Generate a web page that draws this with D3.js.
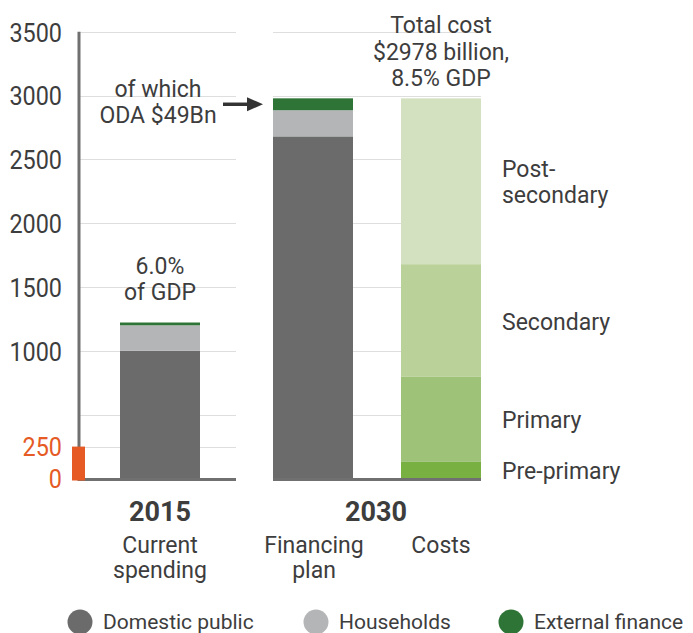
<!DOCTYPE html>
<html>
<head>
<meta charset="utf-8">
<script src="https://cdn.jsdelivr.net/npm/d3@7"></script>
<style>
  html, body { margin: 0; padding: 0; background: #fff; }
  svg { display: block; font-family: Roboto, "Noto Sans", sans-serif; }
</style>
</head>
<body>
<svg id="chart" width="693" height="633"></svg>
<script>
// Education spending 2015 vs financing plan and costs in 2030 (US$ billion)
const stackedBars = ["Current spending", "Financing plan"];
const sources = ["Domestic public", "Households", "External finance"];
const domesticPublic = [1000, 2680];
const households = [200, 205];
const externalFinance = [22, 93];

const costLevels = ["Pre-primary", "Primary", "Secondary", "Post-secondary"];
const costValues = [130, 666, 883, 1299];

const tickValues = [0, 250, 1000, 1500, 2000, 2500, 3000, 3500];
const highlightTicks = [0, 250];
const leftGrid = [250, 500, 1000, 1500, 2000, 2500, 3000, 3500];
const rightGrid = [500, 1000, 1500, 2000, 2500, 3000, 3500];
const highlightValue = 250;

const years = ["2015", "2030"];

const colors = {
  "Domestic public": "#6b6b6b",
  "Households": "#b4b5b6",
  "External finance": "#2e7437",
  "Pre-primary": "#78b042",
  "Primary": "#9fc279",
  "Secondary": "#bbd19a",
  "Post-secondary": "#d4e1c0"
};
const ink = "#3d3d3d";
const orange = "#e55a25";
const axisGray = "#707070";
const gridGray = "#dedede";
const tickSqueeze = 0.9; // narrower digits on the value axis

const svg = d3.select("#chart");

const y = d3.scaleLinear().domain([0, 3500]).range([478.5, 31.7]);
const columns = ["Current spending", "Financing plan", "Costs"];
const xCenter = d3.scaleOrdinal().domain(columns).range([160, 313, 441]);
const barW = 80;
const panels = [
  { x0: 80, x1: 236, grid: leftGrid },
  { x0: 273, x1: 481, grid: rightGrid }
];

// text helper
function label(parent, x, yy, text, opts = {}) {
  return parent.append("text")
    .attr("x", x).attr("y", yy)
    .attr("text-anchor", opts.anchor || "middle")
    .attr("font-size", opts.size || 23)
    .attr("font-weight", opts.weight || 400)
    .attr("fill", opts.fill || ink)
    .text(text);
}

// gridlines
const grid = svg.append("g");
panels.forEach(p => {
  grid.selectAll(null).data(p.grid).join("line")
    .attr("x1", p.x0).attr("x2", p.x1)
    .attr("y1", d => Math.round(y(d)) + 0.5).attr("y2", d => Math.round(y(d)) + 0.5)
    .attr("stroke", gridGray).attr("stroke-width", 1.2);
});

// stacked financing bars
const stackInput = stackedBars.map((c, i) => ({
  cat: c,
  "Domestic public": domesticPublic[i],
  "Households": households[i],
  "External finance": externalFinance[i]
}));
const series = d3.stack().keys(sources)(stackInput);
svg.append("g").selectAll("g").data(series).join("g")
  .attr("fill", s => colors[s.key])
  .selectAll("rect").data(s => s).join("rect")
  .attr("x", d => xCenter(d.data.cat) - barW / 2)
  .attr("width", barW)
  .attr("y", d => y(d[1]))
  .attr("height", d => y(d[0]) - y(d[1]));

// cost bar by level
const costRow = [Object.fromEntries(costLevels.map((k, i) => [k, costValues[i]]))];
const costSeries = d3.stack().keys(costLevels)(costRow);
svg.append("g").selectAll("rect").data(costSeries).join("rect")
  .attr("fill", s => colors[s.key])
  .attr("x", xCenter("Costs") - barW / 2)
  .attr("width", barW)
  .attr("y", s => y(s[0][1]))
  .attr("height", s => y(s[0][0]) - y(s[0][1]));

// level labels beside the cost bar
const levelText = {
  "Pre-primary": ["Pre-primary"],
  "Primary": ["Primary"],
  "Secondary": ["Secondary"],
  "Post-secondary": ["Post-", "secondary"]
};
costSeries.forEach(s => {
  const lines = levelText[s.key];
  const mid = (y(s[0][0]) + y(s[0][1])) / 2;
  lines.forEach((t, i) => {
    const yy = mid + (i - (lines.length - 1) / 2) * 26 + 9;
    label(svg, 502, yy, t, { anchor: "start", size: 23 });
  });
});

// baselines
panels.forEach(p => {
  svg.append("line")
    .attr("x1", p.x0 - (p.x0 === 80 ? 2 : 0)).attr("x2", p.x1)
    .attr("y1", y(0) + 1).attr("y2", y(0) + 1)
    .attr("stroke", axisGray).attr("stroke-width", 3);
});

// left axis line
svg.append("line")
  .attr("x1", 79).attr("x2", 79)
  .attr("y1", y(3500)).attr("y2", y(0) + 2.5)
  .attr("stroke", axisGray).attr("stroke-width", 3);

// highlighted low band on the axis
svg.append("rect")
  .attr("x", 72).attr("width", 13)
  .attr("y", y(highlightValue))
  .attr("height", y(0) - y(highlightValue) + 2)
  .attr("fill", orange);

// y axis labels
const axis = svg.append("g")
  .attr("transform", "translate(62,0)")
  .call(d3.axisLeft(y).tickValues(tickValues).tickSize(0).tickPadding(0).tickFormat(d3.format("d")));
axis.select(".domain").remove();
axis.selectAll("text")
  .attr("font-family", "Roboto, sans-serif")
  .attr("font-size", 26)
  .attr("dy", "0.36em")
  .attr("transform", `scale(${tickSqueeze},1)`)
  .attr("fill", d => highlightTicks.includes(d) ? orange : ink);

// annotations
const b2015 = stackInput[0];
const top2015 = y(b2015["Domestic public"] + b2015["Households"] + b2015["External finance"]);
label(svg, xCenter("Current spending"), top2015 - 49, "6.0%");
label(svg, xCenter("Current spending"), top2015 - 23, "of GDP");

const totalCost = d3.sum(costValues);
const topCost = y(totalCost);
label(svg, xCenter("Costs"), topCost - 65, "Total cost");
label(svg, xCenter("Costs"), topCost - 38, `$${totalCost} billion,`);
label(svg, xCenter("Costs"), topCost - 12, "8.5% GDP");

const b2030 = stackInput[1];
const top2030 = y(b2030["Domestic public"] + b2030["Households"] + b2030["External finance"]);
label(svg, 158, top2030 - 1, "of which");
label(svg, 158, top2030 + 25, "ODA $49Bn");

// arrow pointing at the external finance segment
const arrowY = (top2030 + y(b2030["Domestic public"] + b2030["Households"])) / 2;
const ax0 = 223, ax1 = 263;
svg.append("line")
  .attr("x1", ax0).attr("x2", ax1 - 12)
  .attr("y1", arrowY).attr("y2", arrowY)
  .attr("stroke", "#333").attr("stroke-width", 3.5);
svg.append("path")
  .attr("d", `M${ax1},${arrowY} L${ax1 - 16},${arrowY - 7} L${ax1 - 16},${arrowY + 7} Z`)
  .attr("fill", "#333");

// category and year labels
label(svg, 160, 521, years[0], { size: 27, weight: 700 });
label(svg, 376, 521, years[1], { size: 27, weight: 700 });
label(svg, xCenter("Current spending"), 553, "Current");
label(svg, xCenter("Current spending"), 578, "spending");
label(svg, 314, 553, "Financing");
label(svg, 314, 578, "plan");
label(svg, xCenter("Costs"), 553, "Costs");

// legend
const legendX = [80, 316, 511];
const legend = svg.append("g");
sources.forEach((s, i) => {
  legend.append("circle")
    .attr("cx", legendX[i]).attr("cy", 622).attr("r", 12.5)
    .attr("fill", colors[s]);
  label(legend, legendX[i] + 23, 629, s, { anchor: "start", size: 21 });
});
</script>
</body>
</html>
